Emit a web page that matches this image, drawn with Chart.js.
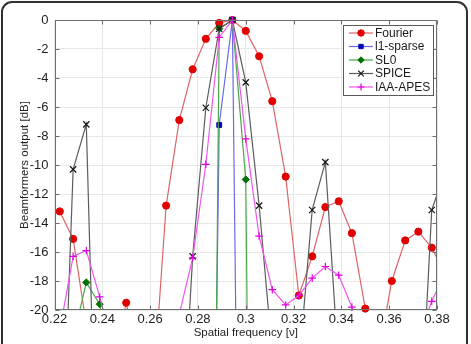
<!DOCTYPE html>
<html><head><meta charset="utf-8">
<script src="https://cdn.jsdelivr.net/npm/chart.js@4"></script>
<style>
html,body{margin:0;padding:0;background:#fff;}
#wrap{position:relative;width:471px;height:344px;overflow:hidden;background:#fff;}
#frame{position:absolute;left:1px;top:1px;width:467px;height:380px;border:2px solid #303030;border-radius:11px;box-sizing:border-box;}
canvas{position:absolute;left:0;top:0;}
</style></head>
<body><div id="wrap"><div id="frame"></div><canvas id="c" width="471" height="344"></canvas></div>
<script>
// spatial frequency grid (x values)
const freqs = [0.2222,0.2278,0.2333,0.2389,0.2444,0.2500,0.2556,0.2611,0.2667,0.2722,
               0.2778,0.2833,0.2889,0.2944,0.3000,0.3056,0.3111,0.3167,0.3222,0.3278,
               0.3333,0.3389,0.3444,0.3500,0.3556,0.3611,0.3667,0.3722,0.3778,0.3833];
// beamformer outputs in dB (values below -20 are clipped by the axis)
const fourier = [-13.2,-15.1,-21,-28,-24,-19.5,-24,-26,-12.8,-6.9,
                 -3.4,-1.3,-0.2,0,-0.75,-2.5,-5.6,-10.8,-19.0,-16.3,
                 -12.9,-12.5,-14.7,-19.9,-23,-18.0,-15.2,-14.6,-15.7,-17.5];
const l1sparse = [null,null,null,null,null,null,null,null,null,null,
                  null,-75,-7.24,0,-80,null,null,null,null,null,
                  null,null,null,null,null,null,null,null,null,null];
const sl0 = [null,-22,-18.1,-19.6,-24,null,null,null,null,null,
             null,-100,-0.6,0,-11.0,-100,null,null,null,null,
             null,null,null,null,null,null,null,null,null,null];
const spice = [-36,-10.3,-7.2,-40,null,null,null,null,null,-32.5,
               -16.3,-6.05,-0.6,0,-4.3,-12.8,-23,null,-24,-13.1,
               -9.8,-24,null,null,null,null,null,-31,-13.1,-10.5];
const iaaApes = [-21.4,-16.3,-15.9,-19.1,-22.4,null,null,null,-25,-20.3,
                 -16.4,-9.95,-1.2,0,-8.2,-14.9,-18.6,-19.65,-19.0,-17.8,
                 -17.0,-17.6,-19.8,-22,null,null,null,-21.9,-19.4,-17.5];
const seriesNames = ['Fourier','l1-sparse','SL0','SPICE','IAA-APES'];
const xTickValues = [0.22,0.24,0.26,0.28,0.30,0.32,0.34,0.36,0.38];
const xTickLabels = ['0.22','0.24','0.26','0.28','0.3','0.32','0.34','0.36','0.38'];
const yTickValues = [0,-2,-4,-6,-8,-10,-12,-14,-16,-18,-20];
const yTickLabels = ['0','-2','-4','-6','-8','-10','-12','-14','-16','-18','-20'];

const styles = [
  {line:'#e06464', mark:'#e00000', style:'circle',   r:3.6, bw:1},
  {line:'#6a6ae8', mark:'#0000c0', style:'rect',     r:3.4, bw:1},
  {line:'#4aa64a', mark:'#007000', style:'rectRot',  r:3.6, bw:1},
  {line:'#5c5c5c', mark:'#151515', style:'crossRot', r:4.4, bw:1.2},
  {line:'#ee55ee', mark:'#e000e0', style:'cross',    r:3.8, bw:1.2}
];
const values = [fourier, l1sparse, sl0, spice, iaaApes];
const FONT = "'Liberation Sans', Arial, sans-serif";

const datasets = [];
values.forEach((vals, i) => {
  const pts = freqs.map((f, j) => ({x: f, y: vals[j]}));
  const s = styles[i];
  datasets.push({label: seriesNames[i], data: pts, borderColor: s.line, borderWidth: 1.2,
    pointRadius: 0, clip: 0, order: 100 - 2*i, spanGaps: false, tension: 0});
  datasets.push({label: seriesNames[i] + ' markers', data: pts, showLine: false,
    pointStyle: s.style, backgroundColor: s.mark, borderColor: s.mark, borderWidth: s.bw,
    pointRadius: ctx => (ctx.raw && ctx.raw.y !== null && ctx.raw.y >= -20.2 && ctx.raw.y <= 0) ? s.r : 0,
    clip: 6, order: 99 - 2*i});
});

const axisColor = '#6e6e6e';
const decor = {
  id: 'decor',
  afterDatasetsDraw(chart) {
    const {ctx, chartArea: a, scales: {x, y}} = chart;
    const H = Chart.helpers;
    ctx.save();
    ctx.strokeStyle = axisColor; ctx.lineWidth = 1;
    const L = Math.round(a.left) + 0.5, R = Math.round(a.right) - 0.5;
    const T = Math.round(a.top) + 0.5, B = Math.round(a.bottom) - 0.5;
    ctx.strokeRect(L, T, R - L, B - T);
    ctx.beginPath();
    xTickValues.forEach(v => {
      const px = Math.round(x.getPixelForValue(v)) + 0.5;
      ctx.moveTo(px, B); ctx.lineTo(px, B - 4);
      ctx.moveTo(px, T); ctx.lineTo(px, T + 4);
    });
    yTickValues.forEach(v => {
      const py = Math.round(y.getPixelForValue(v)) + 0.5;
      ctx.moveTo(L, py); ctx.lineTo(L + 4, py);
      ctx.moveTo(R, py); ctx.lineTo(R - 4, py);
    });
    ctx.stroke();
    // legend box
    const bx = 343.5, by = 25.5, bw = 90, bh = 70;
    ctx.fillStyle = '#fff'; ctx.fillRect(bx, by, bw, bh);
    ctx.strokeStyle = '#5a5a5a'; ctx.strokeRect(bx, by, bw, bh);
    ctx.font = '12px ' + FONT; ctx.textBaseline = 'middle'; ctx.textAlign = 'left';
    seriesNames.forEach((name, i) => {
      const s = styles[i];
      const yy = 33 + i * 13.5;
      ctx.strokeStyle = s.line; ctx.lineWidth = 1.2;
      ctx.beginPath(); ctx.moveTo(349, yy); ctx.lineTo(373, yy); ctx.stroke();
      ctx.fillStyle = s.mark; ctx.strokeStyle = s.mark; ctx.lineWidth = s.bw;
      H.drawPoint(ctx, {pointStyle: s.style, radius: s.r * 0.9, rotation: 0, borderWidth: s.bw}, 361, yy);
      ctx.fillStyle = '#1a1a1a';
      ctx.fillText(name, 375, yy + 0.5);
    });
    ctx.restore();
  }
};

new Chart(document.getElementById('c'), {
  type: 'line',
  data: {datasets},
  plugins: [decor],
  options: {
    responsive: false, animation: false, events: [],
    layout: {padding: {left: 0, top: 20, right: 34, bottom: 0}},
    plugins: {legend: {display: false}, tooltip: {enabled: false}},
    scales: {
      x: {type: 'linear', min: 0.22, max: 0.38,
        afterBuildTicks: s => { s.ticks = xTickValues.map(v => ({value: v})); },
        afterFit: s => { s.height = 34; },
        ticks: {callback: (v, i) => xTickLabels[i], font: {family: FONT, size: 13}, color: '#1e1e1e',
                padding: 2, maxRotation: 0, autoSkip: false},
        grid: {color: '#e8e8e8', drawTicks: false},
        border: {display: false},
        title: {display: true, text: 'Spatial frequency [ν]', font: {family: FONT, size: 11.5},
                color: '#1e1e1e', padding: {top: 0, bottom: 4}}
      },
      y: {min: -20, max: 0,
        afterBuildTicks: s => { s.ticks = yTickValues.map(v => ({value: v})); },
        afterFit: s => { s.width = 54.5; },
        ticks: {callback: (v, i) => yTickLabels[i], font: {family: FONT, size: 13}, color: '#1e1e1e',
                padding: 6, autoSkip: false},
        grid: {color: '#e8e8e8', drawTicks: false},
        border: {display: false},
        title: {display: true, text: 'Beamformers output [dB]', font: {family: FONT, size: 11.5},
                color: '#1e1e1e', padding: {top: 18, bottom: 0}}
      }
    }
  }
});
</script>
</body></html>
